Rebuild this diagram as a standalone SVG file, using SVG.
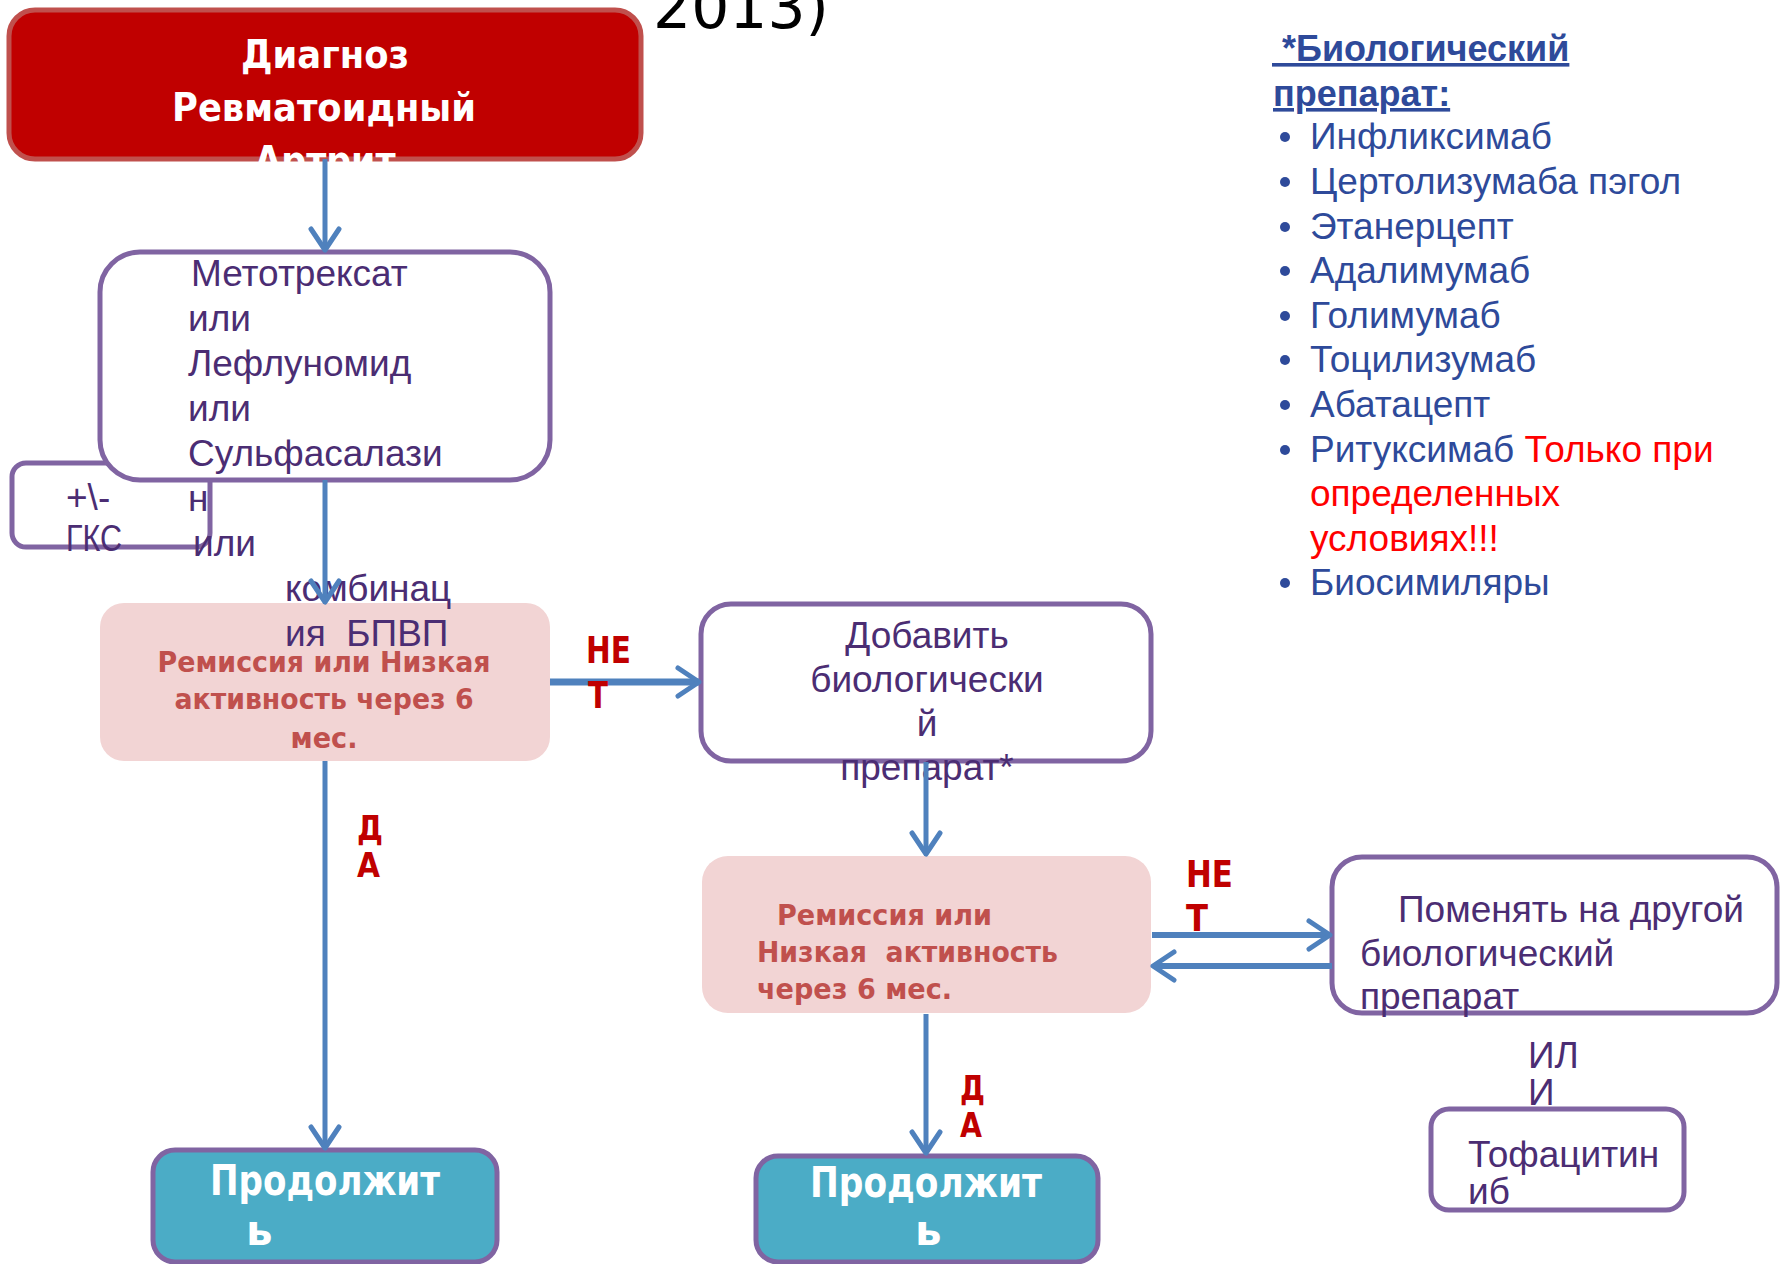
<svg xmlns="http://www.w3.org/2000/svg" width="1781" height="1264" viewBox="0 0 1781 1264">
<style>
.bg{fill:#ffffff}
.red{fill:#C00000;stroke:#C0504D;stroke-width:5}
.pbox{fill:#ffffff;stroke:#8064A2;stroke-width:5}
.pink{fill:#F2D4D4;stroke:none}
.cont{fill:#4BACC6;stroke:#8064A2;stroke-width:5}
.wt{font-family:"DejaVu Sans",sans-serif;font-weight:bold;font-size:39px;fill:#ffffff;text-anchor:middle}
.pt{font-family:"Liberation Sans",Arial,sans-serif;font-size:37px;fill:#4B2D73}
.ptc{font-family:"Liberation Sans",Arial,sans-serif;font-size:37px;fill:#4B2D73;text-anchor:middle}
.pk{font-family:"DejaVu Sans",sans-serif;font-weight:bold;font-size:29px;fill:#C0504D}
.pkc{font-family:"DejaVu Sans",sans-serif;font-weight:bold;font-size:29px;fill:#C0504D;text-anchor:middle}
.lbl{font-family:"DejaVu Sans",sans-serif;font-weight:bold;font-size:37px;fill:#C00000}
.lbs{font-family:"DejaVu Sans",sans-serif;font-weight:bold;font-size:34px;fill:#C00000}
.ct{font-family:"DejaVu Sans",sans-serif;font-weight:bold;font-size:42px;fill:#ffffff}
.lst{font-family:"Liberation Sans",Arial,sans-serif;font-size:37px;fill:#2E4A9A}
.hd{font-family:"Liberation Sans",Arial,sans-serif;font-weight:bold;font-size:36px;fill:#2E4A9A}
.rd{fill:#FF0000}
.conn{stroke:#4F81BD;stroke-width:5;fill:none}
.thick{stroke-width:7}
.mid{stroke-width:6}
</style>
<defs>
<marker id="ah" markerUnits="userSpaceOnUse" markerWidth="34" markerHeight="34" viewBox="0 0 34 34" refX="29" refY="17" orient="auto">
<path d="M8,3 L29,17 L8,31" fill="none" stroke="#4F81BD" stroke-width="5" stroke-linejoin="round" stroke-linecap="round"/>
</marker>
</defs>
<rect class="bg" x="0" y="0" width="1781" height="1264"/>

<g id="title-fragment">
<text x="653" y="28" font-family="DejaVu Sans, sans-serif" font-size="60" fill="#000000" textLength="176" lengthAdjust="spacingAndGlyphs">2013)</text>
</g>

<g id="node-diagnosis">
<rect class="red" x="9" y="10" width="632" height="149" rx="26" ry="26"/>
<text class="wt" x="325" y="68" textLength="168" lengthAdjust="spacingAndGlyphs">Диагноз</text>
<text class="wt" x="324" y="121" textLength="304" lengthAdjust="spacingAndGlyphs">Ревматоидный</text>
<text class="wt" x="325" y="174" textLength="141" lengthAdjust="spacingAndGlyphs">Артрит</text>
</g>

<g id="node-gks">
<rect class="pbox" x="12" y="463" width="198" height="84" rx="14" ry="14"/>
<text class="pt" x="66" y="510" font-size="29">+\-</text>
<text class="pt" x="66" y="551" font-size="29" textLength="56" lengthAdjust="spacingAndGlyphs">ГКС</text>
</g>

<g id="node-remission1">
<rect class="pink" x="100" y="603" width="450" height="158" rx="24" ry="24"/>
<text class="pkc" x="324" y="672" textLength="333" lengthAdjust="spacingAndGlyphs">Ремиссия или Низкая</text>
<text class="pkc" x="324" y="709" textLength="299" lengthAdjust="spacingAndGlyphs">активность через 6</text>
<text class="pkc" x="324" y="748" textLength="67" lengthAdjust="spacingAndGlyphs">мес.</text>
</g>

<g id="node-dmard">
<rect class="pbox" x="100" y="252" width="450" height="228" rx="40" ry="40"/>
<text class="pt" x="191" y="286">Метотрексат</text>
<text class="pt" x="188" y="331">или</text>
<text class="pt" x="188" y="376">Лефлуномид</text>
<text class="pt" x="188" y="421">или</text>
<text class="pt" x="188" y="466">Сульфасалази</text>
<text class="pt" x="188" y="511">н</text>
<text class="pt" x="193" y="556">или</text>
<text class="pt" x="285" y="601">комбинац</text>
<text class="pt" x="285" y="646" xml:space="preserve">ия  БПВП</text>
</g>

<g id="node-add-bio">
<rect class="pbox" x="701" y="604" width="450" height="157" rx="30" ry="30"/>
<text class="ptc" x="927" y="648">Добавить</text>
<text class="ptc" x="927" y="692">биологически</text>
<text class="ptc" x="927" y="736">й</text>
<text class="ptc" x="927" y="780">препарат*</text>
</g>

<g id="node-remission2">
<rect class="pink" x="702" y="856" width="449" height="157" rx="26" ry="26"/>
<text class="pk" x="777" y="925" textLength="215" lengthAdjust="spacingAndGlyphs">Ремиссия или</text>
<text class="pk" x="757" y="962" textLength="301" lengthAdjust="spacingAndGlyphs" xml:space="preserve">Низкая  активность</text>
<text class="pk" x="757" y="999" textLength="195" lengthAdjust="spacingAndGlyphs">через 6 мес.</text>
</g>

<g id="node-switch-bio">
<rect class="pbox" x="1332" y="857" width="445" height="156" rx="30" ry="30"/>
<text class="pt" x="1398" y="922" textLength="346" lengthAdjust="spacingAndGlyphs">Поменять на другой</text>
<text class="pt" x="1360" y="966">биологический</text>
<text class="pt" x="1360" y="1009">препарат</text>
</g>

<g id="node-or">
<text class="pt" x="1528" y="1068" font-size="31">ИЛ</text>
<text class="pt" x="1528" y="1105" font-size="31">И</text>
</g>

<g id="node-tofa">
<rect class="pbox" x="1431" y="1109" width="253" height="101" rx="18" ry="18"/>
<text class="pt" x="1468" y="1167" font-size="30">Тофацитин</text>
<text class="pt" x="1468" y="1204" font-size="30">иб</text>
</g>

<g id="node-continue1">
<rect class="cont" x="153" y="1150" width="344" height="112" rx="22" ry="22"/>
<text class="ct" x="210" y="1195" textLength="230" lengthAdjust="spacingAndGlyphs">Продолжит</text>
<text class="ct" x="246" y="1245">ь</text>
</g>

<g id="node-continue2">
<rect class="cont" x="756" y="1156" width="342" height="106" rx="22" ry="22"/>
<text class="ct" x="810" y="1197" textLength="232" lengthAdjust="spacingAndGlyphs">Продолжит</text>
<text class="ct" x="915" y="1245">ь</text>
</g>

<g id="connectors">
<line class="conn" x1="325" y1="159" x2="325" y2="250" marker-end="url(#ah)"/>
<line class="conn" x1="325" y1="480" x2="325" y2="602" marker-end="url(#ah)"/>
<line class="conn" x1="325" y1="761" x2="325" y2="1148" marker-end="url(#ah)"/>
<line class="conn thick" x1="550" y1="682" x2="699" y2="682" marker-end="url(#ah)"/>
<line class="conn" x1="926" y1="762" x2="926" y2="854" marker-end="url(#ah)"/>
<line class="conn" x1="926" y1="1014" x2="926" y2="1153" marker-end="url(#ah)"/>
<line class="conn mid" x1="1152" y1="935" x2="1330" y2="935" marker-end="url(#ah)"/>
<line class="conn mid" x1="1332" y1="966" x2="1153" y2="966" marker-end="url(#ah)"/>
</g>

<g id="labels">
<text class="lbl" x="586" y="663" textLength="45" lengthAdjust="spacingAndGlyphs">НЕ</text>
<text class="lbl" x="588" y="708" textLength="20" lengthAdjust="spacingAndGlyphs">Т</text>
<text class="lbl" x="1186" y="887" textLength="47" lengthAdjust="spacingAndGlyphs">НЕ</text>
<text class="lbl" x="1186" y="931" textLength="22" lengthAdjust="spacingAndGlyphs">Т</text>
<text class="lbs" x="357" y="840" textLength="26" lengthAdjust="spacingAndGlyphs">Д</text>
<text class="lbs" x="357" y="877" textLength="23" lengthAdjust="spacingAndGlyphs">А</text>
<text class="lbs" x="960" y="1100" textLength="25" lengthAdjust="spacingAndGlyphs">Д</text>
<text class="lbs" x="960" y="1137" textLength="22" lengthAdjust="spacingAndGlyphs">А</text>
</g>

<g id="bio-list">
<text class="hd" x="1272" y="61" text-decoration="underline" xml:space="preserve"> *Биологический</text>
<text class="hd" x="1273" y="106" text-decoration="underline">препарат:</text>
<g class="lst">
<circle cx="1285" cy="137" r="5" fill="#2E4A9A"/>
<text class="lst" x="1310" y="149">Инфликсимаб</text>
<circle cx="1285" cy="182" r="5" fill="#2E4A9A"/>
<text class="lst" x="1310" y="194">Цертолизумаба пэгол</text>
<circle cx="1285" cy="227" r="5" fill="#2E4A9A"/>
<text class="lst" x="1310" y="239">Этанерцепт</text>
<circle cx="1285" cy="271" r="5" fill="#2E4A9A"/>
<text class="lst" x="1310" y="283">Адалимумаб</text>
<circle cx="1285" cy="316" r="5" fill="#2E4A9A"/>
<text class="lst" x="1310" y="328">Голимумаб</text>
<circle cx="1285" cy="360" r="5" fill="#2E4A9A"/>
<text class="lst" x="1310" y="372">Тоцилизумаб</text>
<circle cx="1285" cy="405" r="5" fill="#2E4A9A"/>
<text class="lst" x="1310" y="417">Абатацепт</text>
<circle cx="1285" cy="450" r="5" fill="#2E4A9A"/>
<text class="lst" x="1310" y="462">Ритуксимаб <tspan class="rd">Только при</tspan></text>
<text class="lst rd" x="1310" y="506">определенных</text>
<text class="lst rd" x="1310" y="551">условиях!!!</text>
<circle cx="1285" cy="583" r="5" fill="#2E4A9A"/>
<text class="lst" x="1310" y="595">Биосимиляры</text>
</g>
</g>
</svg>
